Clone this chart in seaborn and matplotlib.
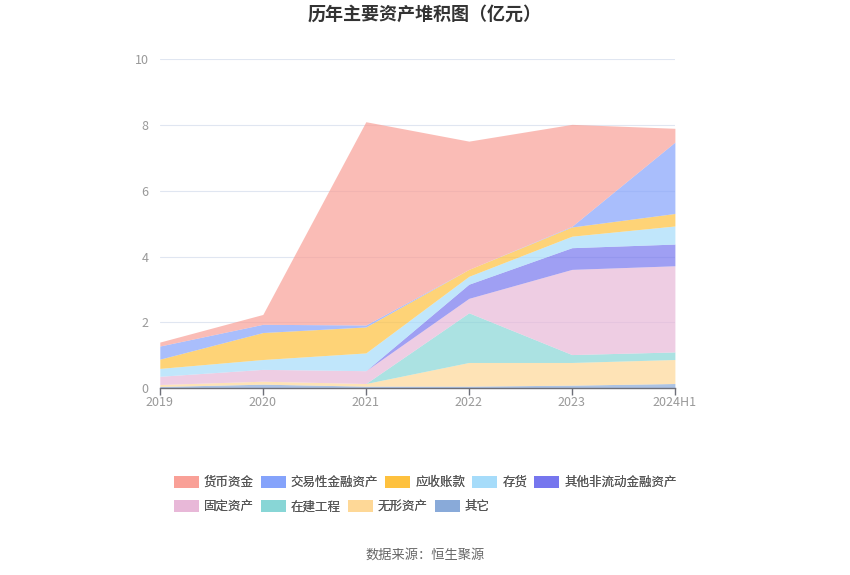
import numpy as np
import pandas as pd
import matplotlib.pyplot as plt
import seaborn as sns
from matplotlib.patches import Patch

# data (亿元)
years = ['2019', '2020', '2021', '2022', '2023', '2024H1']
qita = [0.05, 0.12, 0.06, 0.06, 0.09, 0.14]          # 其它
wuxing = [0.06, 0.09, 0.08, 0.72, 0.69, 0.73]        # 无形资产
zaijian = [0.0, 0.0, 0.0, 1.51, 0.24, 0.23]          # 在建工程
guding = [0.25, 0.36, 0.39, 0.44, 2.59, 2.62]        # 固定资产
qita_fld = [0.0, 0.0, 0.0, 0.43, 0.66, 0.66]         # 其他非流动金融资产
cunhuo = [0.24, 0.30, 0.54, 0.24, 0.35, 0.55]        # 存货
yingshou = [0.28, 0.82, 0.79, 0.21, 0.28, 0.38]      # 应收账款
jiaoyi = [0.40, 0.25, 0.06, 0.0, 0.02, 2.17]         # 交易性金融资产
huobi = [0.12, 0.30, 6.18, 3.90, 3.10, 0.42]         # 货币资金

legend_names = ['货币资金', '交易性金融资产', '应收账款', '存货', '其他非流动金融资产',
                '固定资产', '在建工程', '无形资产', '其它']
colors = {'货币资金': '#f9a097', '交易性金融资产': '#85a3fb', '应收账款': '#fec13e',
          '存货': '#a6dcfa', '其他非流动金融资产': '#7676ee', '固定资产': '#e8b8d8',
          '在建工程': '#88d6d6', '无形资产': '#fed897', '其它': '#89aad9'}

df = pd.DataFrame({'其它': qita, '无形资产': wuxing, '在建工程': zaijian, '固定资产': guding,
                   '其他非流动金融资产': qita_fld, '存货': cunhuo, '应收账款': yingshou,
                   '交易性金融资产': jiaoyi, '货币资金': huobi}, index=years)

sns.set_theme(style='white')
plt.rcParams['font.family'] = ['Noto Sans CJK SC', 'DejaVu Sans']

fig = plt.figure(figsize=(8.5, 5.75), dpi=100)
ax = fig.add_axes([0.188, 0.325, 0.606, 0.572])

x = np.arange(len(years))
ax.stackplot(x, [df[c] for c in df.columns], colors=[colors[c] for c in df.columns],
             alpha=0.7, linewidth=0)

ax.set_xlim(0, len(years) - 1)
ax.set_ylim(0, 10)
ax.set_yticks(range(0, 11, 2))
ax.set_xticks(x)
ax.set_xticklabels(years)
ax.yaxis.grid(True, color='#e0e6f1', linewidth=0.8)
ax.set_axisbelow(True)
for s in ['top', 'right', 'left']:
    ax.spines[s].set_visible(False)
ax.spines['bottom'].set_color('#6e7079')
ax.spines['bottom'].set_linewidth(1)
ax.tick_params(axis='x', colors='#6e7079', labelcolor='#999999', length=5, width=1,
               direction='out', bottom=True, labelsize=9, pad=1)
ax.tick_params(axis='y', length=0, labelcolor='#999999', labelsize=9, pad=8)

fig.text(0.5, 0.975, '历年主要资产堆积图（亿元）', ha='center', va='center',
         fontsize=13, fontweight='bold', color='#333333')
fig.text(0.5, 0.035, '数据来源：恒生聚源', ha='center', va='center',
         fontsize=9.5, color='#666666')

# two legend rows, left aligned
rows = [legend_names[:5], legend_names[5:]]
for i, row in enumerate(rows):
    handles = [Patch(facecolor=colors[n], edgecolor='none', label=n) for n in row]
    leg = fig.legend(handles=handles, loc='center left', bbox_to_anchor=(0.2047, 0.161 - i * 0.042),
                     ncol=len(row), frameon=False, fontsize=9, handlelength=2.0,
                     handleheight=1.1, handletextpad=0.4, columnspacing=0.55,
                     borderpad=0, borderaxespad=0)
    for t in leg.get_texts():
        t.set_color('#555555')
    fig.add_artist(leg)

fig.savefig('out.png', dpi=100)
